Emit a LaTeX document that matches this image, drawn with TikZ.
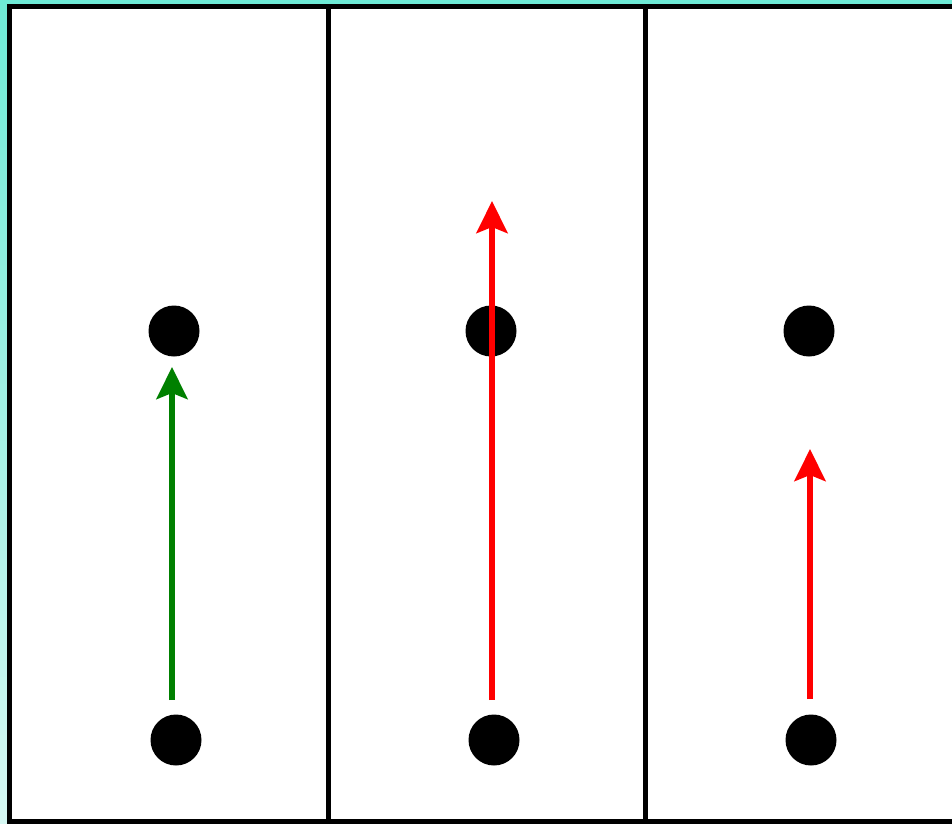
\documentclass[tikz,border=0pt]{standalone}
\usetikzlibrary{arrows.meta}
\definecolor{tealtop}{HTML}{6EEAD6}
\definecolor{tealbot}{HTML}{D6F8F3}
\definecolor{pushgreen}{HTML}{008000}
\begin{document}
\begin{tikzpicture}[x=1pt, y=1pt,
  panel/.style={draw=black, line width=5pt, fill=white},
  dot/.style={circle, fill=black, inner sep=0, outer sep=0, minimum size=51pt},
  push/.style={line width=6pt, -{Stealth[length=32pt, width=31pt, inset=6pt]}}]
  \useasboundingbox (0,0) rectangle (952,-823);
  \clip (0,0) rectangle (952,-823);
  \shade [top color=tealtop, bottom color=tealbot] (0,0) rectangle (952,-823);

  % three panels
  \draw [panel] (9.5,-6.5) rectangle (328,-821.5);
  \draw [panel] (328,-6.5) rectangle (645,-821.5);
  \draw [panel] (645,-6.5) rectangle (962,-821.5);

  % panel 1
  \node [dot] (topA) at (174,-331) {};
  \node [dot] (botA) at (176,-740) {};
  \coordinate (startA) at (172,-700);
  \coordinate (endA) at (172,-367);
  \draw [push, pushgreen] (startA) -- (endA);

  % panel 2
  \node [dot] (topB) at (491,-331) {};
  \node [dot] (botB) at (494,-740) {};
  \coordinate (startB) at (492,-700);
  \coordinate (endB) at (492,-201);
  \draw [push, red] (startB) -- (endB);

  % panel 3
  \node [dot] (topC) at (809,-331) {};
  \node [dot] (botC) at (811,-740) {};
  \coordinate (startC) at (810,-699);
  \coordinate (endC) at (810,-449);
  \draw [push, red] (startC) -- (endC);
\end{tikzpicture}
\end{document}
